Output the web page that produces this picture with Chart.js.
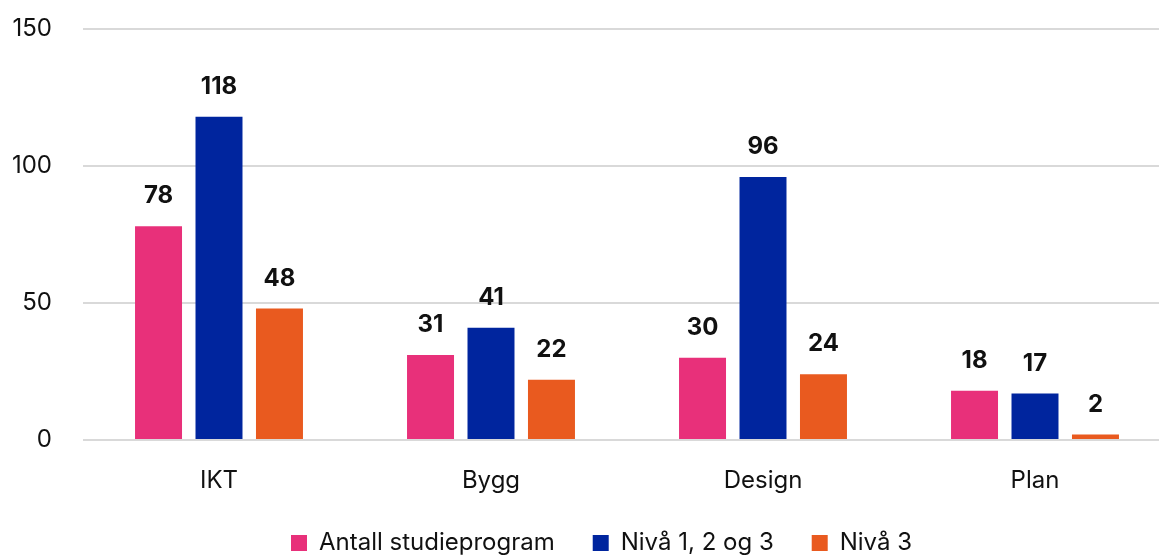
<!DOCTYPE html>
<html><head><meta charset="utf-8">
<script src="https://cdn.jsdelivr.net/npm/chart.js@4.4.1/dist/chart.umd.min.js"></script>
<style>html,body{margin:0;padding:0;overflow:hidden;background:#fff}#wrap{width:1171px;height:556px}</style>
</head><body><div id="wrap"><canvas id="c"></canvas></div>
<script>
const categories = ["IKT", "Bygg", "Design", "Plan"];
const antallStudieprogram = [78, 31, 30, 18];
const niva123 = [118, 41, 96, 17];
const niva3 = [48, 22, 24, 2];
const yTicks = [0, 50, 100, 150];
const seriesNames = ["Antall studieprogram", "Nivå 1, 2 og 3", "Nivå 3"];

const FONT = "Inter, 'Open Sans', sans-serif";
const labelPlugin = {
  id: 'vals',
  beforeUpdate(chart) {
    const lg = chart.legend;
    if (lg && !lg._patched) {
      const orig = lg.fit.bind(lg);
      lg.fit = function() { orig(); this.height = 63; };
      lg._patched = true;
    }
  },
  afterLayout(chart) {
    const lg = chart.legend;
    if (lg) { lg.left += 16; lg.right += 16; }
  },
  afterDatasetsDraw(chart) {
    const ctx = chart.ctx;
    ctx.save();
    ctx.font = "bold 24px " + FONT;
    ctx.fillStyle = "#111";
    ctx.textAlign = "center";
    ctx.textBaseline = "middle";
    chart.data.datasets.forEach((ds, i) => {
      chart.getDatasetMeta(i).data.forEach((bar, j) => {
        ctx.fillText(String(ds.data[j]), bar.x, bar.y - 30);
      });
    });
    ctx.restore();
  }
};

new Chart(document.getElementById('c'), {
  type: 'bar',
  data: {
    labels: categories,
    datasets: [
      {label: seriesNames[0], data: antallStudieprogram, backgroundColor: '#E8307A'},
      {label: seriesNames[1], data: niva123, backgroundColor: '#00259E'},
      {label: seriesNames[2], data: niva3, backgroundColor: '#E95A1F'}
    ]
  },
  options: {
    responsive: true, maintainAspectRatio: false, animation: false,
    layout: {padding: {top: 29, bottom: 0, left: 0, right: 0}},
    datasets: {bar: {barPercentage: 0.777, categoryPercentage: 0.667}},
    plugins: {
      legend: {position: 'bottom', labels: {boxWidth: 16, boxHeight: 16, padding: 38, color: '#111', font: {family: FONT, size: 24}}},
      tooltip: {enabled: false}
    },
    scales: {
      x: {
        afterFit(s) { s.height = 53; },
        grid: {display: false, drawTicks: false},
        border: {display: false},
        ticks: {color: '#111', font: {family: FONT, size: 24, lineHeight: 1}, padding: 29}
      },
      y: {
        min: 0, max: 150,
        afterBuildTicks(s) { s.ticks = yTicks.map(v => ({value: v})); },
        afterFit(s) { s.width = 83; s.paddingTop = 0; s.paddingBottom = 0; },
        grid: {color: '#d9d9d9', lineWidth: 2, drawTicks: false},
        border: {display: false},
        ticks: {color: '#111', font: {family: FONT, size: 24}, padding: 31}
      }
    }
  },
  plugins: [labelPlugin]
});
</script></body></html>
